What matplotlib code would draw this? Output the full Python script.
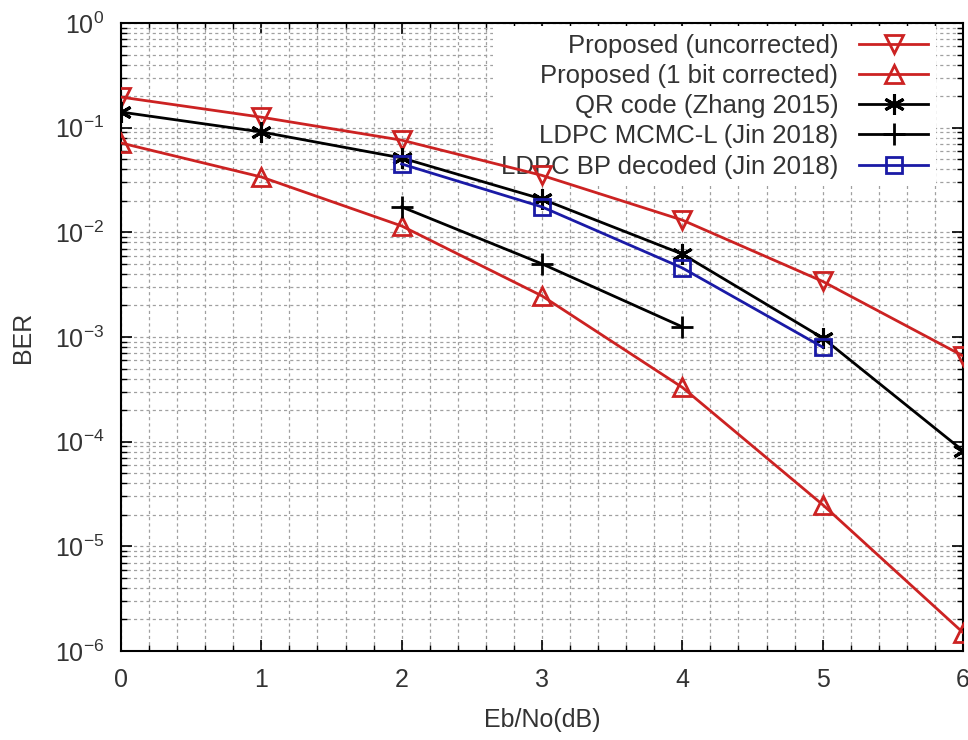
import matplotlib
matplotlib.use("Agg")
import matplotlib.pyplot as plt
from matplotlib.ticker import LogLocator, MultipleLocator, NullFormatter

plt.rcParams['font.family'] = ['Liberation Sans', 'DejaVu Sans']
plt.rcParams['mathtext.fontset'] = 'custom'
plt.rcParams['mathtext.rm'] = 'Liberation Sans'

ebno = [0, 1, 2, 3, 4, 5, 6]
prop_uncorr = [0.196, 0.126, 0.076, 0.035, 0.0131, 0.0034, 6.6e-4]
prop_corr = [0.0714, 0.0338, 0.0115, 0.00247, 3.3e-4, 2.5e-5, 1.5e-6]
qr_zhang = [0.141, 0.091, 0.0514, 0.0208, 0.0062, 9.8e-4, 8.2e-5]
ebno_ldpc = [2, 3, 4]
ldpc_mcmc = [0.0175, 0.005, 1.25e-3]
ebno_bp = [2, 3, 4, 5]
ldpc_bp = [0.045, 0.0175, 0.00457, 8.0e-4]

labels = ["Proposed (uncorrected)", "Proposed (1 bit corrected)", "QR code (Zhang 2015)",
          "LDPC MCMC-L (Jin 2018)", "LDPC BP decoded (Jin 2018)"]

red = '#cc2222'
blue = '#1a1aa6'

fig = plt.figure(figsize=(9.68, 7.4), dpi=100)
ax = fig.add_axes([0.125, 0.1203, 0.8698, 0.8486])

ax.plot(ebno, prop_uncorr, color=red, lw=2, marker='v', ms=12.5, mfc='none', mew=2, label=labels[0], zorder=3)
ax.plot(ebno, prop_corr, color=red, lw=2, marker='^', ms=12.5, mfc='none', mew=2, label=labels[1], zorder=3)
ax.plot(ebno, qr_zhang, color='black', lw=2, marker=(6, 2, 0), ms=15, mew=2.2, label=labels[2], zorder=3)
ax.plot(ebno_ldpc, ldpc_mcmc, color='black', lw=2, marker='+', ms=16, mew=2, label=labels[3], zorder=3)
ax.plot(ebno_bp, ldpc_bp, color=blue, lw=2, marker='s', ms=11, mfc='none', mew=2, label=labels[4], zorder=3)

ax.set_yscale('log')
ax.set_xlim(0, 6)
ax.set_ylim(1e-6, 1)
ax.xaxis.set_major_locator(MultipleLocator(1))
ax.xaxis.set_minor_locator(MultipleLocator(0.2))
ax.yaxis.set_major_locator(LogLocator(base=10, numticks=10))
ax.yaxis.set_minor_locator(LogLocator(base=10, subs=range(2, 10), numticks=20))
ax.yaxis.set_minor_formatter(NullFormatter())

ax.grid(True, which='both', color='#a0a0a0', linestyle=(0, (2.5, 2.5)), lw=0.9)
ax.set_axisbelow(True)
ax.tick_params(which='both', direction='in', top=True, right=True, labelsize=18, colors='black',
               labelcolor='#333333')
ax.tick_params(which='major', length=8, width=1.2, pad=12)
ax.tick_params(which='minor', length=4, width=1)
for s in ax.spines.values():
    s.set_linewidth(1.5)

ax.set_xlabel('Eb/No(dB)', fontsize=18, color='#333333', labelpad=12)
ax.set_ylabel('BER', fontsize=18, color='#333333', labelpad=14)

leg = ax.legend(loc='upper right', bbox_to_anchor=(0.968, 0.995), markerfirst=False, fontsize=18.5,
                frameon=True, fancybox=False, edgecolor='none', facecolor='white', framealpha=1,
                handlelength=2.7, borderaxespad=0, labelspacing=0.24, handletextpad=0.8,
                borderpad=0.3)
leg.set_zorder(2)
for t in leg.get_texts():
    t.set_color('#333333')

fig.savefig('out.png', dpi=100)
